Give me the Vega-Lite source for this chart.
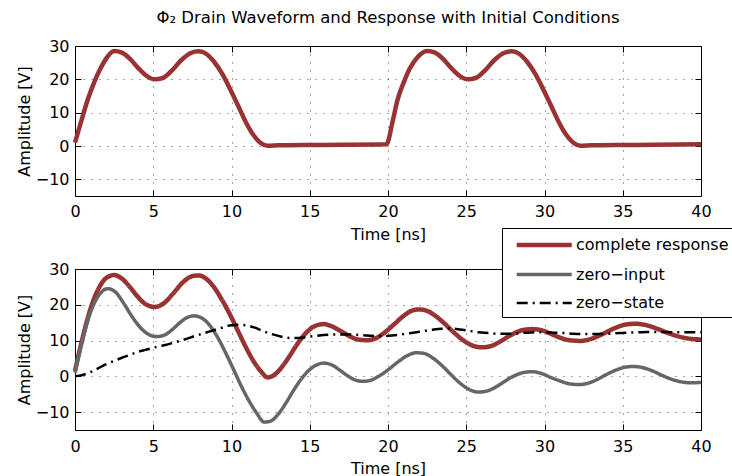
{
  "$schema": "https://vega.github.io/schema/vega-lite/v6.json",
  "padding": {"left": 15, "top": 9, "right": 0, "bottom": 0},
  "spacing": 17,
  "config": {
    "font": "DejaVu Sans",
    "view": {"stroke": "black", "strokeWidth": 1},
    "axis": {
      "labelFontSize": 16, "labelColor": "black", "titleFontSize": 16, "titleFontWeight": "normal",
      "titleColor": "black", "domain": false, "tickColor": "black", "tickSize": -6, "labelPadding": 12,
      "labelFlush": false,
      "gridColor": "black", "gridOpacity": 0.7, "gridDash": [1, 7], "gridWidth": 1
    },
    "legend": {
      "labelFontSize": 16, "labelColor": "black", "symbolType": "M-0.277,0H6.35", "symbolSize": 276,
      "strokeColor": "black", "fillColor": "white", "padding": 6, "labelOffset": 46, "rowPadding": 10
    },
    "title": {"fontSize": 16.5, "fontWeight": "normal", "color": "black"}
  },
  "resolve": {"scale": {"y": "independent", "x": "independent"}},
  "datasets": {
    "drain": [
      {"t": 0, "v": 1}, {"t": 0.4, "v": 7.5}, {"t": 0.8, "v": 13.7}, {"t": 1.2, "v": 18.8}, {"t": 1.6, "v": 23},
      {"t": 2.0, "v": 26.3}, {"t": 2.5, "v": 28.5}, {"t": 3.0, "v": 28}, {"t": 3.5, "v": 26.2}, {"t": 4.0, "v": 23.6},
      {"t": 4.5, "v": 21.3}, {"t": 5.1, "v": 20}, {"t": 5.6, "v": 20.4}, {"t": 6.2, "v": 22.7}, {"t": 6.8, "v": 25.8},
      {"t": 7.4, "v": 27.9}, {"t": 7.9, "v": 28.4}, {"t": 8.4, "v": 27.6}, {"t": 8.9, "v": 25.2}, {"t": 9.4, "v": 21.7},
      {"t": 9.9, "v": 17.2}, {"t": 10.4, "v": 12.3}, {"t": 10.9, "v": 7.3}, {"t": 11.4, "v": 3.3}, {"t": 11.9, "v": 0.8},
      {"t": 12.3, "v": 0.1}, {"t": 13, "v": 0.2}, {"t": 15, "v": 0.3}, {"t": 17, "v": 0.35}, {"t": 19.9, "v": 0.5},
      {"t": 20.3, "v": 7.5}, {"t": 20.6, "v": 13.7}, {"t": 21.0, "v": 19}, {"t": 21.4, "v": 23.3}, {"t": 21.9, "v": 26.7},
      {"t": 22.5, "v": 28.5}, {"t": 23.0, "v": 28}, {"t": 23.5, "v": 26.2}, {"t": 24.0, "v": 23.6},
      {"t": 24.5, "v": 21.3}, {"t": 25.1, "v": 20}, {"t": 25.6, "v": 20.4}, {"t": 26.2, "v": 22.7}, {"t": 26.8, "v": 25.8},
      {"t": 27.4, "v": 27.9}, {"t": 27.9, "v": 28.4}, {"t": 28.4, "v": 27.6}, {"t": 28.9, "v": 25.2}, {"t": 29.4, "v": 21.7},
      {"t": 29.9, "v": 17.2}, {"t": 30.4, "v": 12.3}, {"t": 30.9, "v": 7.3}, {"t": 31.4, "v": 3.3}, {"t": 31.9, "v": 0.8},
      {"t": 32.3, "v": 0.1}, {"t": 33, "v": 0.2}, {"t": 35, "v": 0.3}, {"t": 37, "v": 0.35}, {"t": 40, "v": 0.5}
    ],
    "resp": [
      {"series": "complete response", "t": 0, "v": 1.5}, {"series": "complete response", "t": 0.5, "v": 11}, {"series": "complete response", "t": 1.0, "v": 19},
      {"series": "complete response", "t": 1.5, "v": 24.5}, {"series": "complete response", "t": 2.0, "v": 27.5}, {"series": "complete response", "t": 2.5, "v": 28.3},
      {"series": "complete response", "t": 3.0, "v": 27.3}, {"series": "complete response", "t": 3.5, "v": 25}, {"series": "complete response", "t": 4.0, "v": 22.3},
      {"series": "complete response", "t": 4.5, "v": 20.2}, {"series": "complete response", "t": 5.1, "v": 19.4}, {"series": "complete response", "t": 5.7, "v": 20.5},
      {"series": "complete response", "t": 6.3, "v": 23.3}, {"series": "complete response", "t": 6.9, "v": 26.3}, {"series": "complete response", "t": 7.5, "v": 28},
      {"series": "complete response", "t": 7.9, "v": 28.2}, {"series": "complete response", "t": 8.4, "v": 27.2}, {"series": "complete response", "t": 8.9, "v": 24.8},
      {"series": "complete response", "t": 9.4, "v": 21.3}, {"series": "complete response", "t": 9.9, "v": 17.3}, {"series": "complete response", "t": 10.4, "v": 12.8},
      {"series": "complete response", "t": 10.9, "v": 8.3}, {"series": "complete response", "t": 11.4, "v": 4.3}, {"series": "complete response", "t": 11.9, "v": 1.3},
      {"series": "complete response", "t": 12.3, "v": -0.3}, {"series": "complete response", "t": 12.7, "v": 0.3}, {"series": "complete response", "t": 13.2, "v": 2.5},
      {"series": "complete response", "t": 13.7, "v": 5.6}, {"series": "complete response", "t": 14.2, "v": 9}, {"series": "complete response", "t": 14.8, "v": 12.3},
      {"series": "complete response", "t": 15.3, "v": 14}, {"series": "complete response", "t": 15.9, "v": 14.6}, {"series": "complete response", "t": 16.4, "v": 14},
      {"series": "complete response", "t": 17.0, "v": 12.6}, {"series": "complete response", "t": 17.6, "v": 11.1}, {"series": "complete response", "t": 18.2, "v": 10.2},
      {"series": "complete response", "t": 18.7, "v": 10.1}, {"series": "complete response", "t": 19.2, "v": 10.6}, {"series": "complete response", "t": 19.8, "v": 12.3},
      {"series": "complete response", "t": 20.4, "v": 14.6}, {"series": "complete response", "t": 21.0, "v": 16.9}, {"series": "complete response", "t": 21.5, "v": 18.3},
      {"series": "complete response", "t": 22.0, "v": 18.7}, {"series": "complete response", "t": 22.5, "v": 18.3}, {"series": "complete response", "t": 23.0, "v": 17},
      {"series": "complete response", "t": 23.6, "v": 14.8}, {"series": "complete response", "t": 24.2, "v": 12.3}, {"series": "complete response", "t": 24.8, "v": 10.1},
      {"series": "complete response", "t": 25.4, "v": 8.6}, {"series": "complete response", "t": 26.0, "v": 8.1}, {"series": "complete response", "t": 26.6, "v": 8.5},
      {"series": "complete response", "t": 27.2, "v": 9.8}, {"series": "complete response", "t": 27.8, "v": 11.4}, {"series": "complete response", "t": 28.5, "v": 12.8},
      {"series": "complete response", "t": 29.2, "v": 13.2}, {"series": "complete response", "t": 29.8, "v": 12.9}, {"series": "complete response", "t": 30.4, "v": 11.9},
      {"series": "complete response", "t": 31.0, "v": 10.8}, {"series": "complete response", "t": 31.6, "v": 10.1}, {"series": "complete response", "t": 32.3, "v": 9.9},
      {"series": "complete response", "t": 33.0, "v": 10.5}, {"series": "complete response", "t": 33.7, "v": 11.8}, {"series": "complete response", "t": 34.4, "v": 13.3},
      {"series": "complete response", "t": 35.1, "v": 14.4}, {"series": "complete response", "t": 35.8, "v": 14.7}, {"series": "complete response", "t": 36.5, "v": 14.3},
      {"series": "complete response", "t": 37.2, "v": 13.3}, {"series": "complete response", "t": 37.9, "v": 12.1}, {"series": "complete response", "t": 38.6, "v": 11.1},
      {"series": "complete response", "t": 39.3, "v": 10.5}, {"series": "complete response", "t": 40, "v": 10.3},
      {"series": "zero−input", "t": 0, "v": 1}, {"series": "zero−input", "t": 0.5, "v": 10.5}, {"series": "zero−input", "t": 1.0, "v": 18},
      {"series": "zero−input", "t": 1.5, "v": 22.5}, {"series": "zero−input", "t": 2.1, "v": 24.5}, {"series": "zero−input", "t": 2.6, "v": 23.5},
      {"series": "zero−input", "t": 3.1, "v": 20.5}, {"series": "zero−input", "t": 3.6, "v": 17}, {"series": "zero−input", "t": 4.1, "v": 14},
      {"series": "zero−input", "t": 4.6, "v": 12}, {"series": "zero−input", "t": 5.2, "v": 11.1}, {"series": "zero−input", "t": 5.7, "v": 11.5},
      {"series": "zero−input", "t": 6.2, "v": 13}, {"series": "zero−input", "t": 6.7, "v": 15}, {"series": "zero−input", "t": 7.2, "v": 16.5},
      {"series": "zero−input", "t": 7.6, "v": 16.9}, {"series": "zero−input", "t": 8.1, "v": 16.3}, {"series": "zero−input", "t": 8.6, "v": 14.3},
      {"series": "zero−input", "t": 9.1, "v": 11}, {"series": "zero−input", "t": 9.6, "v": 6.8}, {"series": "zero−input", "t": 10.1, "v": 2.2},
      {"series": "zero−input", "t": 10.6, "v": -2.5}, {"series": "zero−input", "t": 11.1, "v": -6.7}, {"series": "zero−input", "t": 11.6, "v": -10.2},
      {"series": "zero−input", "t": 12.1, "v": -12.8}, {"series": "zero−input", "t": 12.5, "v": -12.5}, {"series": "zero−input", "t": 13.0, "v": -10.5},
      {"series": "zero−input", "t": 13.5, "v": -7.3}, {"series": "zero−input", "t": 14.0, "v": -3.7}, {"series": "zero−input", "t": 14.5, "v": -0.5},
      {"series": "zero−input", "t": 15.0, "v": 1.9}, {"series": "zero−input", "t": 15.5, "v": 3.3}, {"series": "zero−input", "t": 15.9, "v": 3.7},
      {"series": "zero−input", "t": 16.4, "v": 3.2}, {"series": "zero−input", "t": 16.9, "v": 1.8}, {"series": "zero−input", "t": 17.4, "v": 0.2},
      {"series": "zero−input", "t": 17.9, "v": -1}, {"series": "zero−input", "t": 18.4, "v": -1.4}, {"series": "zero−input", "t": 18.9, "v": -1.1},
      {"series": "zero−input", "t": 19.4, "v": 0}, {"series": "zero−input", "t": 20.0, "v": 1.8}, {"series": "zero−input", "t": 20.6, "v": 3.9},
      {"series": "zero−input", "t": 21.2, "v": 5.7}, {"series": "zero−input", "t": 21.8, "v": 6.6}, {"series": "zero−input", "t": 22.3, "v": 6.4},
      {"series": "zero−input", "t": 22.8, "v": 5.3}, {"series": "zero−input", "t": 23.4, "v": 3.2}, {"series": "zero−input", "t": 24.0, "v": 0.6},
      {"series": "zero−input", "t": 24.6, "v": -1.9}, {"series": "zero−input", "t": 25.2, "v": -3.7}, {"series": "zero−input", "t": 25.8, "v": -4.4},
      {"series": "zero−input", "t": 26.4, "v": -4}, {"series": "zero−input", "t": 27.0, "v": -2.7}, {"series": "zero−input", "t": 27.6, "v": -1},
      {"series": "zero−input", "t": 28.2, "v": 0.4}, {"series": "zero−input", "t": 28.7, "v": 1.1}, {"series": "zero−input", "t": 29.2, "v": 1.3},
      {"series": "zero−input", "t": 29.8, "v": 0.8}, {"series": "zero−input", "t": 30.4, "v": -0.3}, {"series": "zero−input", "t": 31.0, "v": -1.3},
      {"series": "zero−input", "t": 31.6, "v": -2.1}, {"series": "zero−input", "t": 32.2, "v": -2.3}, {"series": "zero−input", "t": 32.8, "v": -1.9},
      {"series": "zero−input", "t": 33.4, "v": -0.8}, {"series": "zero−input", "t": 34.0, "v": 0.6}, {"series": "zero−input", "t": 34.6, "v": 1.8},
      {"series": "zero−input", "t": 35.2, "v": 2.6}, {"series": "zero−input", "t": 35.7, "v": 2.75}, {"series": "zero−input", "t": 36.3, "v": 2.4},
      {"series": "zero−input", "t": 36.9, "v": 1.5}, {"series": "zero−input", "t": 37.5, "v": 0.3}, {"series": "zero−input", "t": 38.1, "v": -0.8},
      {"series": "zero−input", "t": 38.7, "v": -1.5}, {"series": "zero−input", "t": 39.3, "v": -1.8}, {"series": "zero−input", "t": 40, "v": -1.7},
      {"series": "zero−state", "t": 0, "v": 0}, {"series": "zero−state", "t": 0.5, "v": 0.4}, {"series": "zero−state", "t": 1.0, "v": 1.2},
      {"series": "zero−state", "t": 1.5, "v": 2.3}, {"series": "zero−state", "t": 2.0, "v": 3.4}, {"series": "zero−state", "t": 2.5, "v": 4.3},
      {"series": "zero−state", "t": 3.0, "v": 5.2}, {"series": "zero−state", "t": 3.5, "v": 6}, {"series": "zero−state", "t": 4.0, "v": 6.8},
      {"series": "zero−state", "t": 4.5, "v": 7.4}, {"series": "zero−state", "t": 5.1, "v": 8.1}, {"series": "zero−state", "t": 5.7, "v": 8.7},
      {"series": "zero−state", "t": 6.3, "v": 9.4}, {"series": "zero−state", "t": 7.0, "v": 10.3}, {"series": "zero−state", "t": 7.6, "v": 11.2},
      {"series": "zero−state", "t": 8.2, "v": 12}, {"series": "zero−state", "t": 8.8, "v": 12.8}, {"series": "zero−state", "t": 9.4, "v": 13.6},
      {"series": "zero−state", "t": 10.0, "v": 14.3}, {"series": "zero−state", "t": 10.5, "v": 14.4}, {"series": "zero−state", "t": 11.0, "v": 14.2},
      {"series": "zero−state", "t": 11.5, "v": 13.6}, {"series": "zero−state", "t": 12.0, "v": 12.7}, {"series": "zero−state", "t": 12.5, "v": 11.9},
      {"series": "zero−state", "t": 13.0, "v": 11.3}, {"series": "zero−state", "t": 13.5, "v": 10.8}, {"series": "zero−state", "t": 14.0, "v": 10.7},
      {"series": "zero−state", "t": 14.5, "v": 10.8}, {"series": "zero−state", "t": 15.0, "v": 11.1}, {"series": "zero−state", "t": 15.6, "v": 11.4},
      {"series": "zero−state", "t": 16.2, "v": 11.6}, {"series": "zero−state", "t": 16.8, "v": 11.7}, {"series": "zero−state", "t": 17.4, "v": 11.7},
      {"series": "zero−state", "t": 18.0, "v": 11.6}, {"series": "zero−state", "t": 18.6, "v": 11.4}, {"series": "zero−state", "t": 19.2, "v": 11.3},
      {"series": "zero−state", "t": 19.8, "v": 11.3}, {"series": "zero−state", "t": 20.4, "v": 11.5}, {"series": "zero−state", "t": 21.0, "v": 11.8},
      {"series": "zero−state", "t": 21.6, "v": 12.2}, {"series": "zero−state", "t": 22.2, "v": 12.6}, {"series": "zero−state", "t": 22.8, "v": 13},
      {"series": "zero−state", "t": 23.4, "v": 13.3}, {"series": "zero−state", "t": 24.0, "v": 13.35}, {"series": "zero−state", "t": 24.6, "v": 13.1},
      {"series": "zero−state", "t": 25.2, "v": 12.7}, {"series": "zero−state", "t": 25.8, "v": 12.3}, {"series": "zero−state", "t": 26.4, "v": 12.1},
      {"series": "zero−state", "t": 27.0, "v": 11.9}, {"series": "zero−state", "t": 27.6, "v": 11.9}, {"series": "zero−state", "t": 28.2, "v": 12},
      {"series": "zero−state", "t": 28.8, "v": 12.2}, {"series": "zero−state", "t": 29.4, "v": 12.3}, {"series": "zero−state", "t": 30.0, "v": 12.3},
      {"series": "zero−state", "t": 30.6, "v": 12.2}, {"series": "zero−state", "t": 31.2, "v": 12.1}, {"series": "zero−state", "t": 31.8, "v": 11.9},
      {"series": "zero−state", "t": 32.4, "v": 11.8}, {"series": "zero−state", "t": 33.0, "v": 11.8}, {"series": "zero−state", "t": 33.6, "v": 11.8},
      {"series": "zero−state", "t": 34.2, "v": 11.9}, {"series": "zero−state", "t": 34.8, "v": 12.1}, {"series": "zero−state", "t": 35.4, "v": 12.2},
      {"series": "zero−state", "t": 36.0, "v": 12.3}, {"series": "zero−state", "t": 36.6, "v": 12.4}, {"series": "zero−state", "t": 37.2, "v": 12.4},
      {"series": "zero−state", "t": 37.8, "v": 12.4}, {"series": "zero−state", "t": 38.4, "v": 12.3}, {"series": "zero−state", "t": 39.0, "v": 12.3},
      {"series": "zero−state", "t": 39.6, "v": 12.3}, {"series": "zero−state", "t": 40, "v": 12.3}
    ]
  },
  "vconcat": [
    {
      "width": 626, "height": 150,
      "title": {"text": "Φ₂ Drain Waveform and Response with Initial Conditions", "frame": "group", "anchor": "middle", "offset": 12},
      "data": {"name": "drain"},
      "resolve": {"axis": {"x": "independent", "y": "independent"}},
      "layer": [
        {
          "mark": {"type": "line", "color": "#993333", "strokeWidth": 4.5, "interpolate": "monotone"},
          "encoding": {
            "x": {"field": "t", "type": "quantitative", "scale": {"domain": [0, 40], "nice": false},
                  "axis": {"title": "Time [ns]", "values": [0, 5, 10, 15, 20, 25, 30, 35, 40], "titlePadding": 7, "labelPadding": 13}},
            "y": {"field": "v", "type": "quantitative", "scale": {"domain": [-15, 30], "nice": false},
                  "axis": {"title": "Amplitude [V]", "values": [-10, 0, 10, 20, 30], "titlePadding": 3}}
          }
        },
        {
          "mark": {"type": "line", "strokeOpacity": 0},
          "encoding": {
            "x": {"field": "t", "type": "quantitative", "scale": {"domain": [0, 40], "nice": false},
                  "axis": {"orient": "top", "title": null, "labels": false, "grid": false, "values": [0, 5, 10, 15, 20, 25, 30, 35, 40]}},
            "y": {"field": "v", "type": "quantitative", "scale": {"domain": [-15, 30], "nice": false},
                  "axis": {"orient": "right", "title": null, "labels": false, "grid": false, "values": [-10, 0, 10, 20, 30]}}
          }
        }
      ]
    },
    {
      "width": 626, "height": 161,
      "data": {"name": "resp"},
      "resolve": {"axis": {"x": "independent", "y": "independent"}},
      "layer": [
        {
          "mark": {"type": "line", "interpolate": "monotone"},
          "encoding": {
            "x": {"field": "t", "type": "quantitative", "scale": {"domain": [0, 40], "nice": false},
                  "axis": {"title": "Time [ns]", "values": [0, 5, 10, 15, 20, 25, 30, 35, 40], "titlePadding": 6, "labelPadding": 14}},
            "y": {"field": "v", "type": "quantitative", "scale": {"domain": [-15, 30], "nice": false},
                  "axis": {"title": "Amplitude [V]", "values": [-10, 0, 10, 20, 30], "titlePadding": 3}},
            "color": {"field": "series", "type": "nominal",
                      "scale": {"domain": ["complete response", "zero−input", "zero−state"], "range": ["#993333", "#666666", "#000000"]},
                      "legend": {"title": null, "orient": "none", "legendX": 427, "legendY": 182}},
            "strokeWidth": {"field": "series", "type": "nominal",
                      "scale": {"domain": ["complete response", "zero−input", "zero−state"], "range": [4.5, 2.5, 3]}},
            "strokeDash": {"field": "series", "type": "nominal",
                      "scale": {"domain": ["complete response", "zero−input", "zero−state"], "range": [[1, 0], [1, 0], [11, 5, 2, 5]]}}
          }
        },
        {
          "mark": {"type": "line", "strokeOpacity": 0},
          "encoding": {
            "x": {"field": "t", "type": "quantitative", "scale": {"domain": [0, 40], "nice": false},
                  "axis": {"orient": "top", "title": null, "labels": false, "grid": false, "values": [0, 5, 10, 15, 20, 25, 30, 35, 40]}},
            "y": {"field": "v", "type": "quantitative", "scale": {"domain": [-15, 30], "nice": false},
                  "axis": {"orient": "right", "title": null, "labels": false, "grid": false, "values": [-10, 0, 10, 20, 30]}},
            "detail": {"field": "series", "type": "nominal"}
          }
        }
      ]
    }
  ]
}
